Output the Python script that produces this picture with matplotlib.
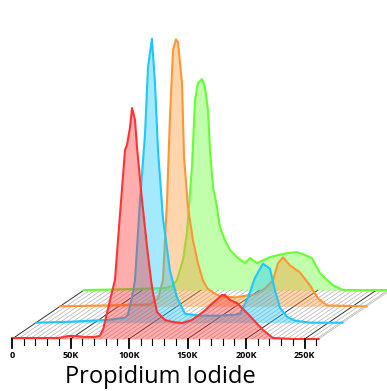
import numpy as np
import matplotlib.pyplot as plt

# PI histograms, one per sample (value in K, height in counts)
red_x = [0, 20, 40, 48, 55, 62, 70, 75, 78, 84, 88, 92, 96.6, 98.3, 100.9, 102.6, 105.1, 106.8,
         111.1, 115.4, 118.8, 120.5, 123.9, 130.8, 137.6, 145.3, 153.8, 163.2, 171.8, 179.5, 182,
         186.3, 192.3, 200.9, 214.5, 223, 240, 262]
red_y = [1, 1, 1, 3, 3, 2, 2, 3, 10, 40, 59, 120, 189, 194, 212, 231, 219, 192,
         139, 92, 59, 46, 27, 19, 17, 16, 19, 27, 36, 44, 44,
         39, 36, 26, 9, 1, 0, 0]

blue_x = [0, 30, 63, 76, 78.6, 82, 84.6, 88.9, 93.2, 95.7, 99.1, 101.7, 104.3, 108.5, 114.5, 120.5,
          127.4, 140.2, 157, 170, 174.4, 181.2, 187.2, 194, 200, 204.3, 208.5, 214.5, 221.4, 235, 262]
blue_y = [0, 1, 3, 5, 8, 25, 42, 122, 189, 255, 284, 239, 172, 105, 52, 25,
          9, 7, 7, 8, 9, 25, 45, 59, 54, 32, 15, 6, 2, 0, 0]

orange_x = [0, 40, 76.9, 83.8, 88, 91.5, 94, 96.6, 99.1, 100.9, 104.3, 106, 109.4, 113.7, 118, 122.2,
            126, 130.8, 136.8, 149.6, 166.7, 175.2, 182, 186.3, 190.6, 196.6, 205.1, 213.7, 220.5,
            228.2, 262]
orange_y = [0, 1, 2, 8, 26, 106, 189, 256, 267, 264, 223, 150, 99, 66, 43, 26,
            18, 14, 10, 9, 12, 18, 26, 43, 49, 41, 34, 21, 8,
            1, 0]

green_x = [0, 40, 69.2, 75.2, 79.5, 84.6, 88, 92.3, 94.9, 97.4, 100.9, 103.4, 106, 107.7, 110.3, 113.7,
           116.2, 120.5, 124.8, 131.6, 137.6, 141.9, 147.9, 159, 173.5, 182, 188.9, 194.9, 201.7, 206,
           212.8, 221.4, 262]
green_y = [0, 1, 2, 4, 10, 30, 57, 123, 190, 207, 211, 203, 180, 140, 103, 83,
           63, 50, 40, 32, 27, 32, 27, 33, 37, 38, 35, 32, 17, 12,
           5, 0, 0]

# front to back
series = [(red_x, red_y, '#ff3333'), (blue_x, blue_y, '#1ec8ff'),
          (orange_x, orange_y, '#ff9633'), (green_x, green_y, '#66ff33')]

tick_vals = [0, 50, 100, 150, 200, 250]
tick_labels = ['0', '50K', '100K', '150K', '200K', '250K']
x_max = 262

dx, dy = 20.5, 16.3   # offset between stacked layers

fig = plt.figure(figsize=(3.87, 3.91), dpi=100)
ax = fig.add_axes([0, 0, 1, 1])
ax.set_xlim(-10.26, 320.5)
ax.set_ylim(-52, 339)
ax.axis('off')

n = len(series)
back_dx, back_dy = (n - 1) * dx, (n - 1) * dy

# floor hatch
for v in np.arange(0, x_max + 1, 5):
    major = v % 50 == 0
    ax.plot([v, v + back_dx], [0, back_dy], color='#333333' if major else '#bbbbbb',
            lw=0.7 if major else 0.6, zorder=1)
ax.plot([x_max, x_max + back_dx], [0, back_dy], color='#bbbbbb', lw=0.6, zorder=1)

# histograms, back layer first
for i in range(n - 1, -1, -1):
    xs, ys, c = series[i]
    xs = np.array(xs) + i * dx
    ys = np.array(ys) + i * dy
    ax.fill_between(xs, i * dy, ys, color=c, alpha=0.4, lw=0, zorder=2 + (n - i))
    ax.plot(xs, ys, color=c, lw=1.5, zorder=2 + (n - i))

# axis ticks
for v in np.arange(0, x_max, 10):
    major = v % 50 == 0
    ax.plot([v, v], [0, -9 if major else -6], color='black',
            lw=1.3 if major else 0.8, zorder=10)
for v, lab in zip(tick_vals, tick_labels):
    ax.text(v, -16, lab, ha='center', va='center', fontsize=6.5,
            fontweight='bold', family='Open Sans')

ax.text(126.5, -38, 'Propidium Iodide', ha='center', va='center', fontsize=17,
        family='Open Sans')

plt.savefig('out.png', dpi=100)
